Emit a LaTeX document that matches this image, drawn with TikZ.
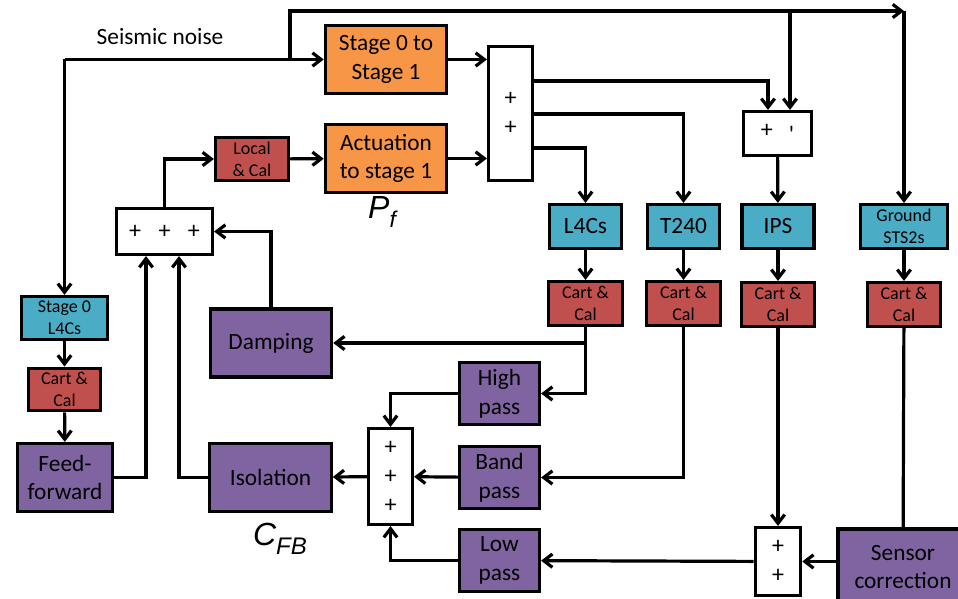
\documentclass[tikz,border=0pt]{standalone}
\usepackage{fontspec}
\setmainfont{Carlito}
\newfontfamily\arialfont{Liberation Sans}
\usetikzlibrary{arrows.meta}
\definecolor{stagecol}{HTML}{F79646}
\definecolor{calcol}{HTML}{C0504D}
\definecolor{senscol}{HTML}{4BACC6}
\definecolor{filtcol}{HTML}{8064A2}

\begin{document}
\begin{tikzpicture}[
  x=0.75pt,
  y=-0.75pt,
  block/.style={draw=black, line width=2.4pt, inner sep=1pt, align=center, font=\fontsize{17.5}{21.5}\selectfont},
  stagebox/.style={block, fill=stagecol, minimum width=91pt, minimum height=51pt},
  calbox/.style={block, fill=calcol, minimum width=55pt, minimum height=33pt, font=\fontsize{13.5}{16.5}\selectfont},
  sensbox/.style={block, fill=senscol, minimum width=54pt, minimum height=33pt},
  filtbox/.style={block, fill=filtcol, minimum width=91pt, minimum height=51pt},
  passbox/.style={filtbox, minimum width=60pt, minimum height=46.5pt},
  sumbox/.style={block, fill=white, font=\fontsize{18}{21.75}\selectfont},
  bigsym/.style={font=\arialfont\itshape\fontsize{24}{24}\selectfont},
  arr/.style={line width=2.4pt, -{Straight Barb[length=6.5pt,width=10pt]}},
  wire/.style={line width=2.4pt}
]
\useasboundingbox (0,0) rectangle (958,599);

\node (seis) at (160,37) {\fontsize{17.5}{21.5}\selectfont Seismic noise};

\node[stagebox] (s01) at (386,59.5) {Stage 0 to\\Stage 1};
\node[stagebox] (act) at (386,158.5) {Actuation\\to stage 1};
\node[calbox, minimum width=54.75pt, minimum height=32.25pt] (local) at (252,159) {Local\\\& Cal};
\node[bigsym] (pf) at (382,212) {P\raisebox{-0.3em}{\fontsize{17}{17}\selectfont f}};

\node[sumbox, minimum width=33pt, minimum height=100.5pt] (sum1) at (510.5,113.5) {+\\+};
\node[sumbox, minimum width=51pt, minimum height=33pt] (sumpm) at (777.5,133.5) {+\hspace{12pt}\raisebox{-0.45ex}{\textquotesingle}};

\node[sensbox] (l4cs) at (585.5,226.5) {L4Cs};
\node[sensbox] (t240) at (683.5,226.5) {T240};
\node[sensbox] (ips) at (778,226.5) {IPS};
\node[sensbox, minimum width=65pt, font=\fontsize{13.5}{16.5}\selectfont] (ground) at (904,226.5) {Ground\\STS2s};

\node[calbox] (cart1) at (585.5,303.5) {Cart \&\\Cal};
\node[calbox] (cart2) at (683.5,303.5) {Cart \&\\Cal};
\node[calbox] (cart3) at (778,304.5) {Cart \&\\Cal};
\node[calbox] (cart4) at (904,304.5) {Cart \&\\Cal};

\node[sensbox, minimum width=64.5pt, minimum height=32.25pt, font=\fontsize{13.5}{16.5}\selectfont] (st0) at (64.5,318) {Stage 0\\L4Cs};
\node[calbox, minimum width=54pt, minimum height=32pt] (cart0) at (64.5,389.5) {Cart \&\\Cal};
\node[filtbox, minimum width=71pt] (ff) at (65,477.5) {Feed-\\forward};

\node[sumbox, minimum width=72pt, minimum height=34.5pt] (sum0) at (164.5,231.5) {+\hspace{13pt}+\hspace{13pt}+};
\node[filtbox] (damp) at (271,343) {Damping};
\node[filtbox] (iso) at (270.5,477.5) {Isolation};
\node[bigsym] (cfb) at (280,539) {C\raisebox{-0.3em}{\fontsize{18}{18}\selectfont FB}};

\node[sumbox, minimum width=33pt, minimum height=72pt] (sum2) at (390.5,476.5) {+\\+\\+};
\node[passbox] (high) at (499.5,393.5) {High\\pass};
\node[passbox] (band) at (499.5,477.5) {Band\\pass};
\node[passbox] (low) at (499.5,560.5) {Low\\pass};

\node[sumbox, minimum width=34pt, minimum height=51pt] (sum3) at (778,561.5) {+\\+};
\node[filtbox, minimum width=97.5pt, minimum height=57pt] (sensor) at (903,567) {Sensor\\correction};

\coordinate (noise) at (64.5,59.5);
\coordinate (nbr) at (290,59.5);
\coordinate (topr) at (904,11);
\coordinate (tpm) at (790,11);
\coordinate (o1) at (534,81);
\coordinate (o2) at (534,114);
\coordinate (o3) at (534,148);
\coordinate (pmin) at (768,81);
\coordinate (fin) at (146,477);
\coordinate (iin) at (179,477);

\draw[arr] (noise) -- (s01);
\draw[arr] (noise) -- (st0);
\draw[arr] (nbr) |- (topr);
\draw[arr] (topr) -- (ground);
\draw[arr] (tpm) -- (sumpm.north -| tpm);

\draw[arr] (s01) -- (s01 -| sum1.west);
\draw[arr] (act) -- (act -| sum1.west);
\draw[arr] (local) -- (act);
\draw[arr] (sum0) |- (local);

\draw[arr] (o1) -| (sumpm.north -| pmin);
\draw[arr] (o2) -| (t240);
\draw[arr] (o3) -| (l4cs);
\draw[arr] (sumpm) -- (ips);

\draw[arr] (l4cs) -- (cart1);
\draw[arr] (t240) -- (cart2);
\draw[arr] (ips) -- (cart3);
\draw[arr] (ground) -- (cart4);
\draw[arr] (st0) -- (cart0);
\draw[arr] (cart0) -- (ff);

\draw[arr] (cart1) |- (high);
\draw[arr] (cart1.south |- damp) -- (damp);
\draw[arr] (cart2) |- (band);
\draw[arr] (cart3) -- (sum3);
\draw[wire] (cart4) -- (sensor);
\draw[arr] (sensor.west |- sum3.east) -- (sum3.east);
\draw[arr] (sum3) -- (low);

\draw[arr] (low) -| (sum2);
\draw[arr] (high) -| (sum2);
\draw[arr] (band) -- (sum2);
\draw[arr] (sum2) -- (iso);

\draw[arr] (iso) -| (sum0.south -| iin);
\draw[arr] (ff) -| (sum0.south -| fin);
\draw[arr] (damp) |- (sum0);
\end{tikzpicture}
\end{document}
